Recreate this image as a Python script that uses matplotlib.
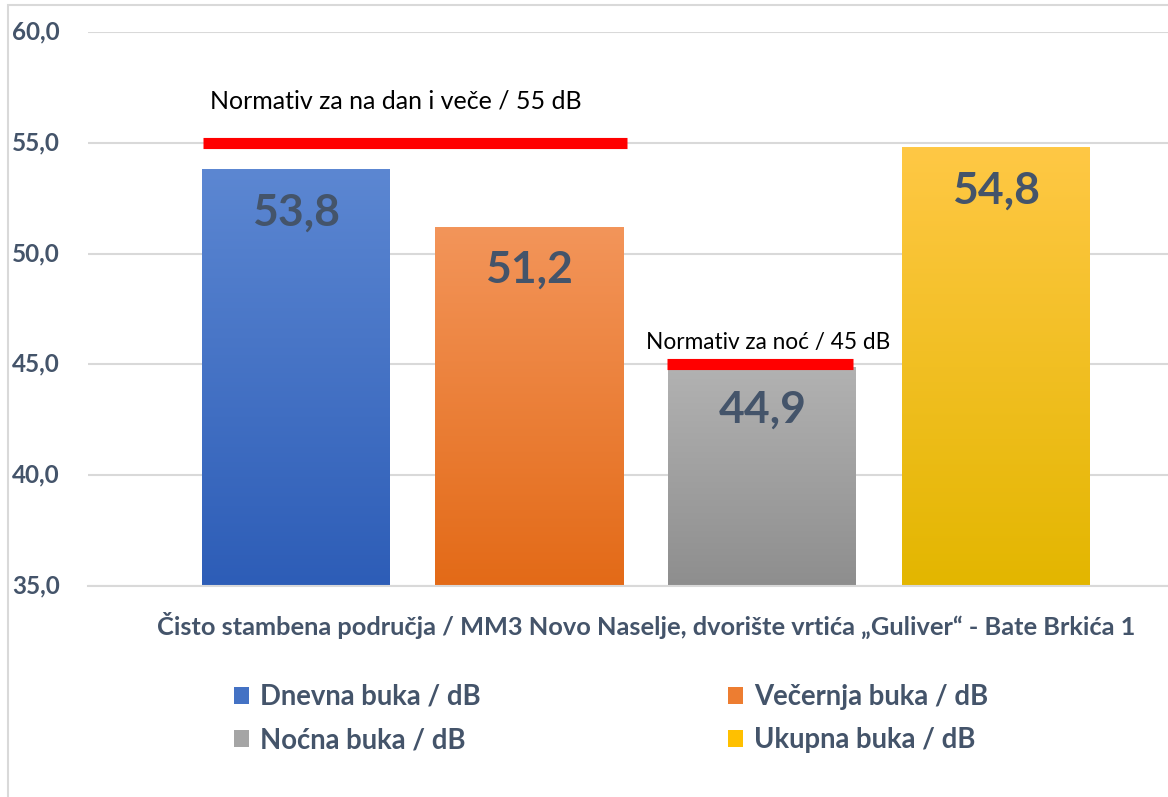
import numpy as np
import matplotlib
matplotlib.use("Agg")
import matplotlib.pyplot as plt
from matplotlib.patches import Rectangle, Patch
from matplotlib.colors import LinearSegmentedColormap

# ---- data ----
series = ["Dnevna buka / dB", "Večernja buka / dB", "Noćna buka / dB", "Ukupna buka / dB"]
values = [53.8, 51.2, 44.9, 54.8]
value_labels = ["53,8", "51,2", "44,9", "54,8"]
category = "Čisto stambena područja / MM3 Novo Naselje, dvorište vrtića „Guliver“ - Bate Brkića 1"
yticks = [35, 40, 45, 50, 55, 60]
ytick_labels = ["35,0", "40,0", "45,0", "50,0", "55,0", "60,0"]
norm_values = [55, 45]
norm_labels = ["Normativ za na dan i veče / 55 dB", "Normativ za noć / 45 dB"]
norm_spans = [(-0.40, 1.42), (1.59, 2.39)]

top_colors = ["#5C87D2", "#F3955A", "#B2B2B2", "#FFC845"]
bot_colors = ["#2D5DB7", "#E36A17", "#8E8E8E", "#E3B600"]
legend_colors = ["#4472C4", "#ED7D31", "#A5A5A5", "#FFC000"]

TXT = "#44546A"
GRID = "#D9D9D9"
plt.rcParams["font.family"] = ["Lato", "DejaVu Sans"]

W, H = 1168, 797
fig = plt.figure(figsize=(W / 100, H / 100), dpi=100)

def fx(px):
    return px / W

def fy(py):
    return 1 - py / H

# outer chart border
fig.patches.append(Rectangle((fx(8), fy(H + 5)), 1.2, fy(5) - fy(H + 5),
                             transform=fig.transFigure, fill=False,
                             edgecolor=GRID, lw=1.5))

ax_left, ax_right = 88, 1168
ax_top, ax_bot = 32, 586
ax = fig.add_axes([fx(ax_left), fy(ax_bot), fx(ax_right - ax_left), fy(ax_top) - fy(ax_bot)])

pitch = 233.2
c0 = 296
xlim = ((ax_left - c0) / pitch, (ax_right - c0) / pitch)
ylim = (35, 60)
width = 188 / pitch

x = np.arange(len(values))
bars = ax.bar(x, [v - ylim[0] for v in values], width, bottom=ylim[0],
              color="none", edgecolor="none", zorder=2)

grad = np.linspace(0, 1, 256).reshape(-1, 1)
for b, tc, bc in zip(bars, top_colors, bot_colors):
    cmap = LinearSegmentedColormap.from_list("g", [bc, tc])
    x0, y0 = b.get_x(), b.get_y()
    w, h = b.get_width(), b.get_height()
    im = ax.imshow(grad, cmap=cmap, aspect="auto", origin="lower",
                   extent=[x0, x0 + w, y0, y0 + h], zorder=2)
    im.set_clip_path(b)

for xi, v, lab in zip(x, values, value_labels):
    ax.annotate(lab, (xi, v), xytext=(0, -31), textcoords="offset points",
                ha="center", va="center", fontsize=32, fontweight="bold",
                color=TXT, zorder=4)

# normative lines
for nv, (s0, s1) in zip(norm_values, norm_spans):
    ax.plot([s0, s1], [nv, nv], color="#FF0000", lw=8, solid_capstyle="butt", zorder=3)

ax.text(-0.37, 56.9, norm_labels[0], fontsize=18, color="black", ha="left", va="center", zorder=5)
ax.text(1.50, 46.0, norm_labels[1], fontsize=16.3, color="black", ha="left", va="center", zorder=5)

ax.set_xlim(*xlim)
ax.set_ylim(*ylim)
ax.set_yticks(yticks)
ax.set_yticklabels([])
ax.set_xticks([])
ax.grid(axis="y", color=GRID, lw=1.5, zorder=0)
ax.set_axisbelow(True)
for s in ["top", "right", "left"]:
    ax.spines[s].set_visible(False)
ax.spines["bottom"].set_color(GRID)
ax.spines["bottom"].set_linewidth(1.5)
ax.tick_params(length=0)

# y tick labels
for t, tl in zip(yticks, ytick_labels):
    py = ax_bot - (t - ylim[0]) / (ylim[1] - ylim[0]) * (ax_bot - ax_top)
    fig.text(fx(12), fy(py), tl, fontsize=17.5, fontweight="bold", color=TXT,
             ha="left", va="center")

# category label
fig.text(fx(646), fy(625), category, fontsize=18.3, fontweight="bold", color=TXT,
         ha="center", va="center")

# legend
handles = [Patch(facecolor=c, edgecolor="none") for c in legend_colors]
order = [0, 2, 1, 3]
leg = fig.legend([handles[i] for i in order], [series[i] for i in order], ncol=2,
                 loc="upper left", bbox_to_anchor=(fx(234), fy(684)),
                 frameon=False, prop={"weight": "bold", "size": 19.8},
                 handlelength=0.55, handleheight=0.55, handletextpad=0.4,
                 columnspacing=9.0, labelspacing=0.62, borderpad=0, borderaxespad=0)
for t in leg.get_texts():
    t.set_color(TXT)

fig.savefig("out.png", dpi=100)
